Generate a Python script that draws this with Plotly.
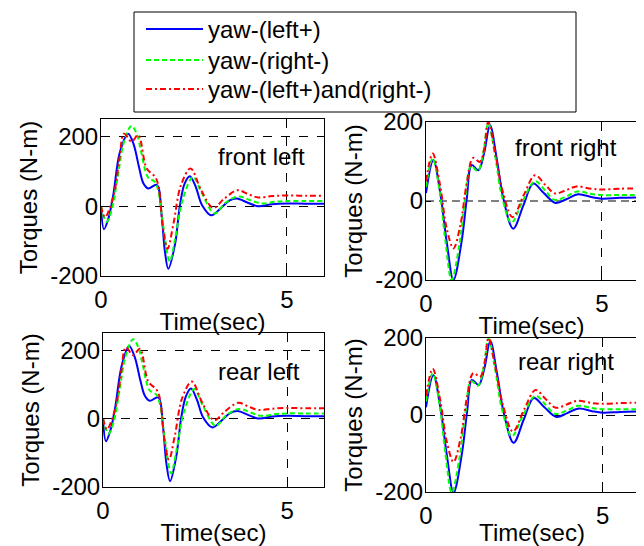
import plotly.graph_objects as go

# The browser page keeps its default 8px body margin, so the figure is sized to the
# remaining window area and reference pixel positions are shifted by that offset.
WIN_W, WIN_H = 644, 546
OFF = 8
W, H = WIN_W - OFF, WIN_H - OFF

series_names = ["yaw-(left+)", "yaw-(right-)", "yaw-(left+)and(right-)"]
panel_labels = ["front left", "front right", "rear left", "rear right"]
x_ticks = [0, 5]
y_ticks = [-200, 0, 200]
y_tick_text = ["-200", "0", "200"]
x_title = "Time(sec)"
y_title = "Torques (N-m)"

# ---------- front left ----------
fl_blue_t = [0, 0.08, 0.2, 0.33, 0.51, 0.73, 0.87, 1.03, 1.14, 1.27, 1.5, 1.63, 1.72, 1.81, 1.99, 2.12, 2.25, 2.39, 2.55, 2.72, 2.97, 3.2, 3.45, 3.65, 3.95, 4.23, 4.6, 5.0, 5.5, 6.0]
fl_blue_v = [0, -66, -35, 32, 156, 208, 180, 109, 66, 51, 61, -25, -130, -179, -110, 0, 65, 86, 55, 3, -26, -8, 16, 22, 10, 0, 6, 8, 7, 7]
fl_green_t = [0, 0.15, 0.3, 0.45, 0.62, 0.82, 0.97, 1.08, 1.27, 1.45, 1.55, 1.67, 1.85, 2.0, 2.2, 2.48, 2.7, 3.06, 3.35, 3.7, 4.0, 4.3, 4.7, 5.0, 5.5, 6.0]
fl_green_v = [0, -45, -5, 85, 185, 230, 205, 156, 82, 70, 40, -53, -158, -90, 20, 84, 40, -21, 10, 28, 18, 8, 13, 15, 15, 15]
fl_red_t = [0, 0.11, 0.25, 0.38, 0.5, 0.62, 0.82, 1.0, 1.23, 1.45, 1.54, 1.67, 1.79, 1.95, 2.15, 2.41, 2.7, 3.02, 3.3, 3.67, 3.95, 4.23, 4.6, 5.0, 5.5, 6.0]
fl_red_v = [0, -32, 0, 51, 140, 208, 185, 204, 108, 85, 61, -63, -122, -50, 60, 108, 45, -5, 20, 46, 35, 25, 29, 31, 30, 30]

# ---------- front right ----------
fr_blue_t = [0, 0.21, 0.4, 0.59, 0.78, 1.01, 1.16, 1.3, 1.49, 1.65, 1.82, 2.01, 2.2, 2.48, 2.77, 3.05, 3.35, 3.69, 4.0, 4.33, 4.7, 5.0, 5.5, 6.0]
fr_blue_v = [20, 103, 23, -104, -200, -104, 6, 91, 78, 120, 192, 108, 6, -70, -11, 44, 20, -5, 5, 17, 10, 6, 8, 9]
fr_green_t = [0, 0.19, 0.38, 0.55, 0.73, 0.95, 1.12, 1.28, 1.47, 1.62, 1.77, 1.97, 2.15, 2.43, 2.75, 3.1, 3.4, 3.65, 4.0, 4.3, 4.7, 5.0, 5.5, 6.0]
fr_green_v = [35, 108, 30, -100, -200, -110, 10, 88, 76, 118, 197, 112, 15, -55, 0, 50, 25, 3, 12, 24, 18, 15, 15, 15]
fr_red_t = [0, 0.19, 0.4, 0.59, 0.78, 0.98, 1.15, 1.34, 1.53, 1.65, 1.77, 1.97, 2.18, 2.46, 2.78, 3.1, 3.4, 3.67, 4.0, 4.28, 4.7, 5.0, 5.5, 6.0]
fr_red_v = [50, 120, 40, -70, -120, -60, 40, 109, 99, 130, 200, 120, 25, -41, 15, 65, 40, 19, 28, 37, 31, 29, 31, 32]

# ---------- rear left ----------
rl_blue_t = [0, 0.08, 0.2, 0.33, 0.51, 0.71, 0.86, 1.02, 1.14, 1.27, 1.5, 1.63, 1.72, 1.82, 1.99, 2.12, 2.25, 2.39, 2.55, 2.72, 2.97, 3.2, 3.45, 3.65, 3.95, 4.23, 4.6, 5.0, 5.5, 6.0]
rl_blue_v = [0, -66, -35, 32, 156, 212, 180, 109, 66, 52, 62, -25, -130, -183, -110, 0, 65, 88, 55, 3, -26, -8, 16, 22, 10, 0, 6, 8, 7, 7]
rl_green_t = [0, 0.15, 0.3, 0.45, 0.62, 0.82, 0.97, 1.08, 1.27, 1.45, 1.55, 1.67, 1.85, 2.0, 2.2, 2.48, 2.7, 3.06, 3.35, 3.7, 4.0, 4.3, 4.7, 5.0, 5.5, 6.0]
rl_green_v = [0, -45, -5, 85, 185, 232, 205, 156, 82, 70, 40, -53, -160, -90, 20, 86, 40, -21, 10, 28, 18, 8, 13, 15, 15, 15]
rl_red_t = [0, 0.11, 0.25, 0.38, 0.5, 0.62, 0.82, 1.0, 1.23, 1.45, 1.54, 1.67, 1.79, 1.95, 2.15, 2.41, 2.7, 3.02, 3.3, 3.67, 3.95, 4.23, 4.6, 5.0, 5.5, 6.0]
rl_red_v = [0, -32, 0, 51, 140, 208, 185, 204, 108, 85, 61, -63, -120, -50, 60, 108, 45, -5, 20, 46, 35, 25, 29, 31, 30, 30]

# ---------- rear right ----------
rr_blue_t = [0, 0.21, 0.4, 0.59, 0.78, 1.01, 1.16, 1.3, 1.49, 1.65, 1.82, 2.01, 2.2, 2.48, 2.77, 3.05, 3.35, 3.69, 4.0, 4.33, 4.7, 5.0, 5.5, 6.0]
rr_blue_v = [20, 103, 23, -104, -202, -104, 6, 91, 78, 120, 192, 108, 6, -72, -11, 44, 20, -5, 5, 17, 10, 6, 8, 9]
rr_green_t = [0, 0.19, 0.38, 0.55, 0.73, 0.95, 1.12, 1.28, 1.47, 1.62, 1.77, 1.97, 2.15, 2.43, 2.75, 3.1, 3.4, 3.65, 4.0, 4.3, 4.7, 5.0, 5.5, 6.0]
rr_green_v = [35, 108, 30, -100, -202, -110, 10, 88, 76, 118, 198, 112, 15, -55, 0, 50, 25, 3, 12, 24, 18, 15, 15, 15]
rr_red_t = [0, 0.19, 0.4, 0.59, 0.78, 0.98, 1.15, 1.34, 1.53, 1.65, 1.77, 1.97, 2.18, 2.46, 2.78, 3.1, 3.4, 3.67, 4.0, 4.28, 4.7, 5.0, 5.5, 6.0]
rr_red_v = [50, 120, 40, -70, -122, -60, 40, 109, 99, 130, 200, 120, 25, -43, 15, 65, 40, 19, 28, 37, 31, 29, 31, 32]

panels = [
    [(fl_blue_t, fl_blue_v), (fl_green_t, fl_green_v), (fl_red_t, fl_red_v)],
    [(fr_blue_t, fr_blue_v), (fr_green_t, fr_green_v), (fr_red_t, fr_red_v)],
    [(rl_blue_t, rl_blue_v), (rl_green_t, rl_green_v), (rl_red_t, rl_red_v)],
    [(rr_blue_t, rr_blue_v), (rr_green_t, rr_green_v), (rr_red_t, rr_red_v)],
]

colors = ["rgb(0,0,255)", "rgb(0,255,0)", "rgb(255,0,0)"]
dashes = ["solid", "5px,3px", "6px,3px,2px,3px"]
legend_ids = ["legend", "legend2", "legend3"]
FONT = "Liberation Sans, Arial, Helvetica, sans-serif"
FS = 24


def px_x(p):
    return (p - OFF) / W


def px_y(p):
    return 1 - (p - OFF) / H


# plot areas in window pixels: (left, right, top, bottom)
areas = [(101, 324, 119, 276), (426, 637, 122, 280), (103, 324, 333, 487), (426, 638, 338, 492)]
y_ranges = [[-200, 250], [-200, 200], [-200, 250], [-200, 200]]
y_grid_colors = ["black", "rgb(128,128,128)", "black", "black"]
y_grid_widths = [1, 2, 1, 1]
y_grid_dashes = ["dash", "8px,5px", "dash", "dash"]
label_pos = [(261, 156), (566, 147), (259, 371), (566, 361)]
legend_line_y = [29, 60, 89]

fig = go.Figure()
for i, panel in enumerate(panels):
    xa = "x" if i == 0 else f"x{i+1}"
    ya = "y" if i == 0 else f"y{i+1}"
    for j, (t, v) in enumerate(panel):
        fig.add_trace(go.Scatter(
            x=t, y=v, mode="lines", name=series_names[j],
            line=dict(color=colors[j], width=2, dash=dashes[j], shape="spline", smoothing=1.0),
            showlegend=(i == 0), legend=legend_ids[j], xaxis=xa, yaxis=ya,
        ))

layout = dict(
    width=W, height=H, margin=dict(l=0, r=0, t=0, b=0, autoexpand=False),
    paper_bgcolor="white", plot_bgcolor="white",
    font=dict(family=FONT, size=FS, color="black"),
    showlegend=True,
)
for j, lid in enumerate(legend_ids):
    layout[lid] = dict(x=px_x(141), y=px_y(legend_line_y[j] - 22), xanchor="left", yanchor="top",
                       bgcolor="rgba(0,0,0,0)", borderwidth=0, itemwidth=57,
                       font=dict(family=FONT, size=FS, color="black"))

for i, (l, r, t, b) in enumerate(areas):
    xk = "xaxis" if i == 0 else f"xaxis{i+1}"
    yk = "yaxis" if i == 0 else f"yaxis{i+1}"
    ya = "y" if i == 0 else f"y{i+1}"
    xa = "x" if i == 0 else f"x{i+1}"
    layout[xk] = dict(
        domain=[px_x(l), px_x(r)], anchor=ya, range=[0, 6], tickvals=x_ticks,
        ticks="inside", ticklen=5, tickcolor="black", showline=True, linecolor="black",
        linewidth=1, mirror="ticks", showgrid=True, gridcolor="black", griddash="dash",
        gridwidth=1, zeroline=False, tickfont=dict(size=FS), automargin=False,
        ticklabelstandoff=2,
        title=dict(text=x_title, standoff=1, font=dict(size=FS)),
    )
    layout[yk] = dict(
        domain=[px_y(b), px_y(t)], anchor=xa, range=y_ranges[i], tickvals=y_ticks,
        ticktext=y_tick_text,
        ticks="inside", ticklen=5, tickcolor="black", showline=True, linecolor="black",
        linewidth=1, mirror="ticks", showgrid=True, gridcolor=y_grid_colors[i],
        griddash=y_grid_dashes[i], gridwidth=y_grid_widths[i],
        zeroline=False, tickfont=dict(size=FS), automargin=False,
        ticklabelstandoff=-3,
        title=dict(text=y_title, standoff=5, font=dict(size=FS)),
    )
fig.update_layout(**layout)

annotations = []
for i, (lx, ly) in enumerate(label_pos):
    annotations.append(dict(x=px_x(lx), y=px_y(ly), xref="paper", yref="paper",
                            text=panel_labels[i], showarrow=False,
                            xanchor="center", yanchor="middle", font=dict(size=FS)))
fig.update_layout(annotations=annotations)

fig.add_shape(type="rect", xref="paper", yref="paper",
              x0=px_x(134), x1=px_x(576), y0=px_y(112), y1=px_y(12),
              line=dict(color="black", width=1), fillcolor="white", layer="below")

fig.write_html("out.html")
